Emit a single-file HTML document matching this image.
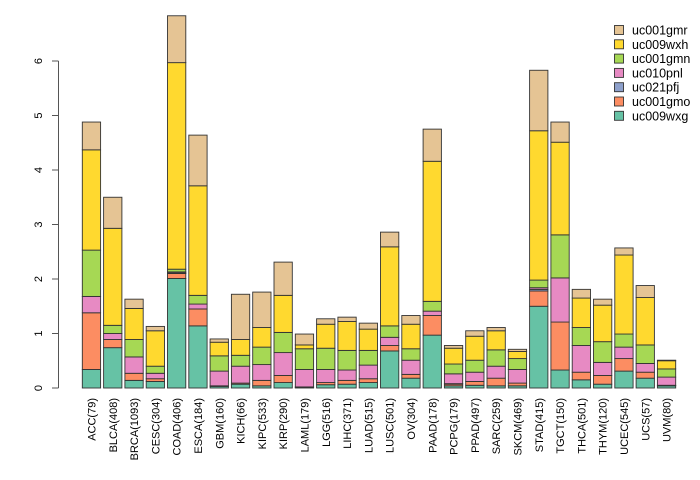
<!DOCTYPE html>
<html><head><meta charset="utf-8"><style>
body{margin:0;background:#fff}
svg{display:block;font-family:"Liberation Sans",sans-serif}
</style></head><body>
<svg id="chart" width="700" height="480" viewBox="0 0 700 480"></svg>
<script>
const categories=["ACC(79)","BLCA(408)","BRCA(1093)","CESC(304)","COAD(406)","ESCA(184)","GBM(160)","KICH(66)","KIPC(533)","KIRP(290)","LAML(179)","LGG(516)","LIHC(371)","LUAD(515)","LUSC(501)","OV(304)","PAAD(178)","PCPG(179)","PPAD(497)","SARC(259)","SKCM(469)","STAD(415)","TGCT(150)","THCA(501)","THYM(120)","UCEC(545)","UCS(57)","UVM(80)"];
const uc009wxg=[0.34,0.74,0.14,0.12,2.01,1.14,0.03,0.07,0.04,0.10,0.01,0.06,0.07,0.10,0.68,0.18,0.97,0.04,0.05,0.04,0.04,1.50,0.33,0.15,0.07,0.31,0.18,0.04];
const uc001gmo=[1.04,0.15,0.13,0.05,0.09,0.31,0.01,0.02,0.10,0.13,0.01,0.04,0.07,0.07,0.10,0.07,0.36,0.03,0.07,0.14,0.05,0.28,0.88,0.14,0.16,0.23,0.11,0.01];
const uc021pfj=[0,0,0,0,0.01,0,0,0,0,0,0,0,0,0,0,0,0,0.01,0,0,0,0.03,0,0,0,0,0,0];
const uc010pnl=[0.30,0.11,0.30,0.10,0.02,0.09,0.27,0.31,0.29,0.42,0.32,0.24,0.19,0.25,0.15,0.26,0.08,0.18,0.17,0.22,0.25,0.03,0.81,0.49,0.24,0.21,0.16,0.15];
const uc001gmn=[0.85,0.15,0.32,0.13,0.05,0.16,0.28,0.20,0.32,0.37,0.38,0.39,0.36,0.27,0.21,0.21,0.18,0.18,0.22,0.30,0.20,0.14,0.79,0.33,0.38,0.24,0.34,0.15];
const uc009wxh=[1.84,1.78,0.57,0.65,3.79,2.01,0.25,0.29,0.36,0.68,0.07,0.44,0.53,0.39,1.45,0.45,2.57,0.29,0.44,0.35,0.13,2.74,1.70,0.54,0.67,1.45,0.87,0.15];
const uc001gmr=[0.51,0.57,0.17,0.08,0.86,0.93,0.06,0.83,0.65,0.61,0.20,0.10,0.08,0.11,0.27,0.16,0.59,0.05,0.10,0.06,0.04,1.11,0.37,0.16,0.11,0.13,0.22,0.01];
const yTicks=[0,1,2,3,4,5,6];
const seriesNames=["uc009wxg","uc001gmo","uc021pfj","uc010pnl","uc001gmn","uc009wxh","uc001gmr"];
const seriesData=[uc009wxg,uc001gmo,uc021pfj,uc010pnl,uc001gmn,uc009wxh,uc001gmr];
const colors=["#66C2A5","#FC8D62","#8DA0CB","#E78AC3","#A6D854","#FFD92F","#E5C494"];
const NS="http://www.w3.org/2000/svg";
const svg=document.getElementById('chart');
function y(v){return 388-v*54.5;}
function x(i){return 82.3+i*21.3;}
const bw=18.3;
function mk(tag,attrs,parent){const e=document.createElementNS(NS,tag);for(const k in attrs)e.setAttribute(k,attrs[k]);(parent||svg).appendChild(e);return e;}
const ax=mk('g',{});


mk('line',{x1:58.5,x2:58.5,y1:y(0),y2:y(6),stroke:'#555','stroke-width':1},ax);
yTicks.forEach(t=>{
  mk('line',{x1:52,x2:58.5,y1:y(t),y2:y(t),stroke:'#555','stroke-width':1},ax);
  const tx=mk('text',{x:0,y:0,'font-size':11,'text-anchor':'middle',fill:'#000',transform:`translate(42,${y(t)}) rotate(-90)`},ax);
  
  
  tx.textContent=t;
});
categories.forEach((c,i)=>{
  const g=mk('g',{});
  
  
  let cum=0;
  seriesData.forEach((s,k)=>{
    const v=s[i];
    if(v>0){
      const r=mk('rect',{x:x(i),y:y(cum+v),width:bw,height:y(cum)-y(cum+v),fill:colors[k],stroke:'#333','stroke-width':0.9},g);
      
      
    }
    cum+=v;
  });
  const t=mk('text',{x:0,y:0,'font-size':11,'text-anchor':'end',fill:'#000',transform:`translate(${x(i)+bw/2+4},398) rotate(-90)`});
  
  
  t.textContent=c;
});
const lg=mk('g',{});


for(let k=6;k>=0;k--){
  const row=6-k;
  const ly=30+row*14.3;
  const e=mk('g',{},lg);
  
  
  mk('rect',{x:614.5,y:ly-4.5,width:9,height:9,fill:colors[k],stroke:'#333','stroke-width':0.9},e);
  const t=mk('text',{x:632,y:ly+4.5,'font-size':12.5,fill:'#000'},e);
  t.textContent=seriesNames[k];
}
</script>
</body></html>
